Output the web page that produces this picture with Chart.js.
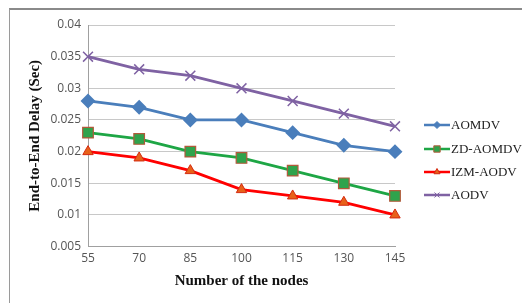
<!DOCTYPE html>
<html>
<head>
<meta charset="utf-8">
<script src="https://cdn.jsdelivr.net/npm/chart.js@4"></script>
<style>
  html, body { margin: 0; padding: 0; background: #fff; }
  #frame { position: absolute; left: 9px; top: 8px; width: 530px; height: 310px;
           border-left: 1px solid #9a9a9a; border-top: 2px solid #8a8a8a; }
  #wrap { position: absolute; left: 0; top: 0; width: 522px; height: 303px; }
</style>
</head>
<body>
<div id="frame"></div>
<div id="wrap"><canvas id="delayChart" width="522" height="303"></canvas></div>
<script>
const nodes = ['55', '70', '85', '100', '115', '130', '145'];

const aomdv = [0.028, 0.027, 0.025, 0.025, 0.023, 0.021, 0.020];
const zdAomdv = [0.023, 0.022, 0.020, 0.019, 0.017, 0.015, 0.013];
const izmAodv = [0.020, 0.019, 0.017, 0.014, 0.013, 0.012, 0.010];
const aodv = [0.035, 0.033, 0.032, 0.030, 0.028, 0.026, 0.024];

const ctx = document.getElementById('delayChart').getContext('2d');

// legend drawn by hand: line with the marker in the middle, like the original
const sideLegend = {
    id: 'sideLegend',
    afterDraw(chart) {
        const c = chart.ctx;
        const ys = [125, 149, 172, 195];
        chart.data.datasets.forEach((ds, i) => {
            const y = ys[i];
            c.save();
            c.strokeStyle = ds.borderColor;
            c.lineWidth = 2.5;
            c.beginPath();
            c.moveTo(424, y);
            c.lineTo(450, y);
            c.stroke();
            c.fillStyle = ds.pointBackgroundColor;
            c.strokeStyle = ds.pointBorderColor;
            c.lineWidth = 1;
            Chart.helpers.drawPoint(c, {
                pointStyle: ds.pointStyle,
                radius: ds.pointStyle === 'rect' ? 4.5 : 3.5,
                borderWidth: 1
            }, 437, y);
            c.fillStyle = '#222';
            c.font = '13px "Liberation Serif"';
            c.textBaseline = 'middle';
            c.fillText(ds.label, 451, y + 1);
            c.restore();
        });
    }
};

const data = {
    labels: nodes,
    datasets: [
        {
            label: 'AOMDV',
            data: aomdv,
            borderColor: '#4a7ebb',
            pointBackgroundColor: '#4a7ebb',
            pointBorderColor: '#4a7ebb',
            pointStyle: 'rectRot',
            pointRadius: 5.5,
            borderWidth: 2.8
        },
        {
            label: 'ZD-AOMDV',
            data: zdAomdv,
            borderColor: '#1ea645',
            pointBackgroundColor: '#2fa34c',
            pointBorderColor: '#b25a3a',
            pointStyle: 'rect',
            pointRadius: 7.5,
            pointBorderWidth: 1.2,
            borderWidth: 2.8
        },
        {
            label: 'IZM-AODV',
            data: izmAodv,
            borderColor: '#ff0000',
            pointBackgroundColor: '#e8611a',
            pointBorderColor: '#d42a10',
            pointStyle: 'triangle',
            pointRadius: 6,
            pointBorderWidth: 1,
            borderWidth: 2.8
        },
        {
            label: 'AODV',
            data: aodv,
            borderColor: '#7f62a3',
            pointBackgroundColor: '#7f62a3',
            pointBorderColor: '#7f62a3',
            pointStyle: 'crossRot',
            pointRadius: 7,
            pointBorderWidth: 1.5,
            borderWidth: 2.8
        }
    ]
};

const config = {
    type: 'line',
    data: data,
    options: {
        responsive: false,
        animation: false,
        layout: {
            padding: { left: 0, right: 127, top: 25, bottom: 13 }
        },
        scales: {
            x: {
                offset: false,
                grid: { display: false, drawTicks: false },
                border: { color: '#a0a0a0', width: 1 },
                ticks: {
                    color: '#555',
                    font: { family: '"Open Sans"', size: 12 },
                    padding: 5,
                    maxRotation: 0
                },
                title: {
                    display: true,
                    text: 'Number of the nodes',
                    color: '#111',
                    font: { family: '"Liberation Serif"', size: 15, weight: 'bold' },
                    padding: { top: 1, bottom: 0 }
                }
            },
            y: {
                min: 0.005,
                max: 0.04,
                grid: { color: '#c8c8c8', drawTicks: false },
                border: { color: '#a0a0a0', width: 1 },
                ticks: {
                    stepSize: 0.005,
                    color: '#555',
                    font: { family: '"Open Sans"', size: 12 },
                    padding: 7,
                    callback: function(v) {
                        return String(Number(v.toFixed(3)));
                    }
                },
                title: {
                    display: true,
                    text: 'End-to-End Delay (Sec)',
                    color: '#111',
                    font: { family: '"Liberation Serif"', size: 15, weight: 'bold' },
                    padding: { top: 26, bottom: 0 }
                },
                afterFit: function(scale) {
                    scale.width = 88;
                }
            }
        },
        plugins: {
            legend: { display: false },
            tooltip: { enabled: false }
        }
    },
    plugins: [sideLegend]
};

const delayChart = new Chart(ctx, config);
</script>
</body>
</html>
